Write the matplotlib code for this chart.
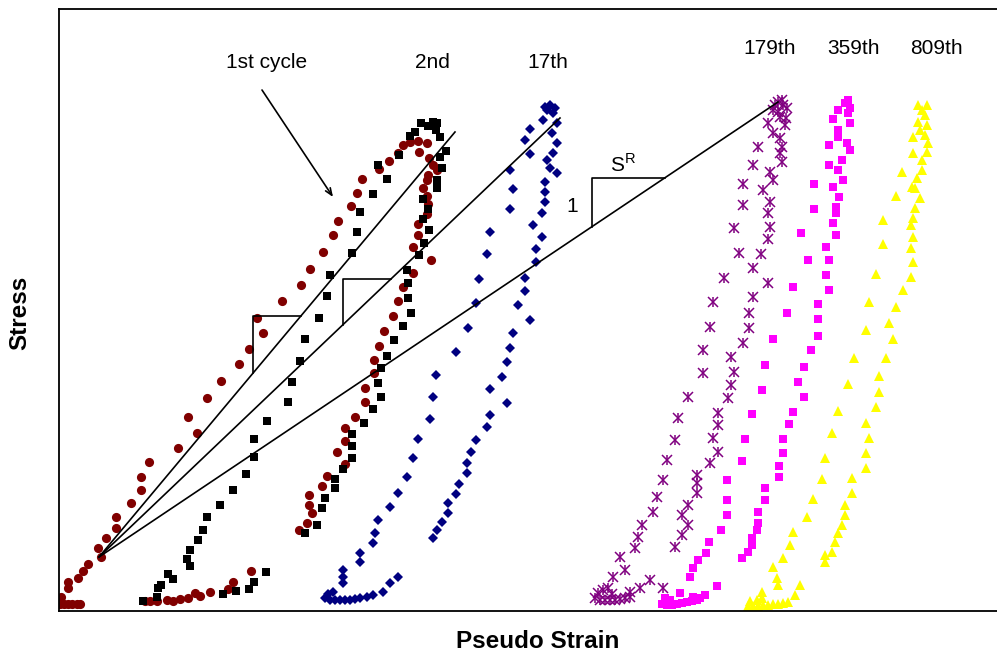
import numpy as np
import matplotlib
matplotlib.use('Agg')
import matplotlib.pyplot as plt

plt.rcParams['font.family'] = ['Liberation Sans', 'DejaVu Sans']

# pseudo strain / stress pairs for each loading cycle (arbitrary units)
strain_1st = [1, 5, 9, 13, 18, 21, 0, 2, 9, 9, 19, 24, 29, 42, 39, 47, 57, 57, 72, 82, 82, 90,
              119, 138, 129, 148, 162, 180, 190, 204, 198, 223, 242, 251, 264, 274, 279, 292,
              298, 303, 320, 330, 339, 344, 351, 359, 368, 360, 370, 374, 378, 369, 368, 364,
              368, 369, 368, 359, 359, 354, 372, 354, 344, 339, 334, 325, 320, 315, 315, 306,
              306, 296, 286, 286, 278, 286, 268, 263, 250, 250, 253, 248, 240, 192, 174, 169,
              151, 141, 136, 129, 121, 114, 108, 98, 91, 86]
stress_1st = [7, 7, 7, 7, 7, 7, 11, 14, 23, 29, 33, 40, 47, 54, 63, 73, 83, 94, 108, 121, 134, 149,
              163, 178, 194, 213, 230, 247, 262, 278, 293, 310, 326, 342, 359, 376, 390, 405,
              418, 432, 442, 450, 458, 466, 469, 470, 468, 459, 453, 446, 441, 436, 431, 423,
              415, 407, 397, 387, 376, 364, 351, 338, 324, 310, 295, 280, 265, 251, 238, 223,
              209, 194, 183, 170, 159, 147, 135, 125, 116, 106, 98, 88, 81, 40, 29, 22,
              19, 15, 18, 13, 12, 10, 11, 10, 10, 10]

strain_2nd = [84, 98, 99, 102, 109, 114, 131, 128, 131, 139, 144, 148, 161, 174, 187, 195, 195,
              208, 229, 233, 241, 246, 260, 268, 271, 293, 298, 301, 314, 328, 319, 340, 351,
              356, 362, 369, 374, 377, 378, 381, 387, 381, 383, 378, 378, 364, 369, 364, 370,
              365, 360, 348, 349, 349, 352, 344, 335, 328, 322, 319, 322, 314, 305, 293, 293,
              293, 284, 276, 276, 266, 263, 258, 246, 207, 195, 190, 177, 164]
stress_2nd = [10, 14, 23, 26, 37, 32, 45, 52, 61, 71, 81, 94, 106, 121, 137, 154, 172,
              190, 209, 229, 250, 272, 293, 315, 336, 358, 379, 399, 417, 432, 446, 456, 475,
              479, 488, 485, 489, 481, 488, 474, 460, 454, 443, 431, 423, 412, 402, 392, 381,
              368, 356, 341, 328, 313, 298, 285, 271, 255, 243, 228, 214, 202, 188, 177, 165,
              153, 142, 132, 123, 113, 103, 86, 78, 39, 29, 22, 20, 17]

strain_17th = [266, 271, 276, 281, 286, 291, 296, 301, 269, 274, 284, 284, 284, 301, 301, 314,
               316, 319, 331, 339, 348, 354, 359, 371, 374, 377, 397, 409, 417, 420, 428, 431,
               451, 454, 451, 471, 466, 471, 484, 488, 486, 491, 496, 494, 498, 493, 498, 494,
               488, 491, 498, 486, 486, 486, 483, 474, 483, 477, 477, 466, 466, 459, 471, 454,
               451, 448, 443, 431, 448, 431, 428, 417, 412, 408, 408, 400, 397, 389, 389, 383,
               378, 374, 339, 331, 324, 314, 308]
stress_17th = [13, 11, 11, 11, 11, 11, 12, 13, 17, 19, 28, 34, 41, 49, 58, 68,
               78, 91, 104, 118, 134, 153, 172, 192, 214, 236, 259, 283, 308, 332, 357, 379,
               402, 422, 441, 457, 471, 482, 491, 501, 504, 506, 503, 498, 488, 478, 468, 458,
               451, 443, 438, 429, 419, 409, 398, 386, 374, 362, 349, 333, 320, 306, 291, 278,
               263, 249, 234, 222, 208, 196, 184, 171, 159, 148, 138, 127, 117, 108, 98, 89,
               81, 73, 34, 28, 19, 16, 14]

strain_179th = [536, 541, 546, 551, 556, 561, 566, 571, 539, 544, 549, 553, 554, 566, 561, 576,
                579, 583, 594, 598, 604, 608, 616, 619, 629, 644, 644, 651, 654, 665, 680, 675,
                684, 684, 694, 699, 709, 714, 719, 724, 728, 716, 723, 719, 727, 721, 726, 714,
                721, 723, 721, 723, 711, 714, 704, 711, 709, 711, 709, 702, 694, 709, 694, 690,
                690, 684, 672, 675, 672, 669, 659, 659, 654, 659, 651, 638, 638, 638, 629, 623,
                629, 623, 616, 604, 591, 581, 571]
stress_179th = [13, 11, 11, 11, 11, 12, 13, 14, 18, 21, 23, 17, 34, 41, 54, 63,
                74, 86, 99, 114, 131, 151, 171, 193, 214, 238, 261, 284, 309, 333, 358, 383,
                406, 427, 446, 464, 488, 501, 509, 506, 503, 506, 511, 499, 493, 494, 486, 478,
                473, 464, 458, 449, 439, 431, 421, 409, 398, 384, 372, 357, 343, 328, 314, 298,
                283, 268, 254, 239, 226, 213, 198, 186, 173, 159, 148, 136, 128, 118, 106, 96,
                86, 76, 64, 23, 31, 23, 19]

strain_359th = [603, 608, 613, 618, 623, 628, 633, 638, 606, 611, 641, 621, 631, 634, 639, 647,
                650, 662, 668, 668, 668, 683, 686, 693, 703, 706, 714, 728, 734, 749, 742, 755,
                755, 770, 770, 774, 779, 786, 789, 791, 789, 791, 779, 779, 788, 791, 783, 779,
                784, 774, 780, 777, 777, 774, 777, 767, 770, 767, 770, 759, 759, 759, 752, 745,
                739, 745, 734, 730, 724, 724, 720, 720, 706, 706, 699, 699, 698, 693, 693, 689,
                683, 658, 646, 634]
stress_359th = [7, 6, 6, 7, 8, 9, 10, 11, 13, 11, 13, 18, 34, 43, 51, 58,
                69, 81, 96, 111, 131, 150, 172, 197, 221, 246, 272, 298, 324, 351, 378, 402,
                427, 446, 466, 492, 501, 508, 511, 503, 498, 488, 481, 474, 468, 461, 451, 441,
                431, 424, 414, 404, 398, 388, 376, 364, 351, 336, 321, 307, 292, 275, 261, 244,
                229, 214, 199, 187, 172, 158, 145, 134, 123, 111, 99, 88, 81, 73, 66, 59,
                53, 25, 16, 14]

strain_809th = [689, 694, 699, 704, 709, 714, 719, 724, 691, 698, 703, 703, 719, 718, 714, 724,
                731, 734, 748, 754, 763, 766, 773, 779, 789, 795, 807, 810, 817, 824, 824, 837,
                843, 853, 854, 854, 859, 859, 868, 863, 866, 861, 868, 866, 869, 868, 863, 863,
                858, 856, 861, 856, 854, 852, 854, 852, 854, 852, 844, 837, 830, 834, 827, 820,
                820, 817, 807, 810, 807, 807, 793, 793, 786, 786, 783, 779, 776, 773, 766, 766,
                741, 736, 729]
stress_809th = [5, 5, 5, 6, 6, 7, 7, 8, 10, 11, 13, 19, 26, 33, 44, 53,
                66, 79, 94, 112, 132, 153, 178, 200, 227, 253, 281, 309, 337, 367, 391, 415,
                439, 424, 458, 474, 489, 506, 506, 501, 496, 481, 486, 476, 468, 459, 451, 441,
                433, 423, 413, 403, 393, 386, 374, 363, 349, 334, 321, 304, 288, 272, 253, 235,
                219, 204, 188, 173, 158, 143, 133, 118, 106, 96, 86, 78, 69, 59, 56, 49,
                26, 16, 9]

# secant lines from the common start point to the peak of cycles 1, 17 and 179
secant_start = (40, 54)
secant_ends = [(396, 479), (501, 493), (719, 509)]
# left edge and run of the slope triangle drawn under each secant
triangle_x = [194, 284, 533]
triangle_run = [48, 48, 73]

cycle_labels = ['1st cycle', '2nd', '17th', '179th', '359th', '809th']
cycle_label_x = [208, 373, 489, 711, 794, 877]
cycle_label_y = [548, 548, 548, 563, 563, 563]

fig = plt.figure(figsize=(9.97, 6.55), dpi=100)
ax = fig.add_axes([59 / 997, 44 / 655, 938 / 997, 602 / 655])

ax.plot(strain_1st, stress_1st, 'o', color='#800000', markersize=6.6, markeredgewidth=0)
ax.plot(strain_2nd, stress_2nd, 's', color='black', markersize=6.2, markeredgewidth=0)
ax.plot(strain_17th, stress_17th, 'D', color='#000080', markersize=4.8, markeredgewidth=0)
ax.plot(strain_179th, stress_179th, 'x', color='#800080', markersize=6.5, markeredgewidth=1.1)
ax.plot(strain_179th, stress_179th, '|', color='#800080', markersize=7.5, markeredgewidth=1.1)
ax.plot(strain_359th, stress_359th, 's', color='#FF00FF', markersize=6.2, markeredgewidth=0)
ax.plot(strain_809th, stress_809th, '^', color='#FFFF00', markersize=7.5, markeredgewidth=0)

x0, y0 = secant_start
for (x1, y1), tx, run in zip(secant_ends, triangle_x, triangle_run):
    ax.plot([x0, x1], [y0, y1], color='black', linewidth=1.2)
    slope = (y1 - y0) / (x1 - x0)
    y_lo = y0 + slope * (tx - x0)
    y_hi = y0 + slope * (tx + run - x0)
    ax.plot([tx, tx, tx + run], [y_lo, y_hi, y_hi], color='black', linewidth=1.2)

# the "1" and S^R legs of the last triangle
ax.text(triangle_x[2] - 20, 405, '1', fontsize=15, ha='center', va='center')
ax.text(triangle_x[2] + 31, 446, 'S$^\\mathregular{R}$', fontsize=15, ha='center', va='center')

for label, lx, ly in zip(cycle_labels, cycle_label_x, cycle_label_y):
    ax.text(lx, ly, label, fontsize=15, ha='center', va='center')

ax.annotate('', xy=(274, 414), xytext=(203, 521),
            arrowprops=dict(arrowstyle='->,head_length=0.5,head_width=0.2',
                            color='black', linewidth=1.2, shrinkA=0, shrinkB=0))

ax.set_xlim(0, 938)
ax.set_ylim(0, 602)
ax.set_xticks([])
ax.set_yticks([])
ax.spines['right'].set_visible(False)
for side in ['left', 'bottom', 'top']:
    ax.spines[side].set_linewidth(1.3)

fig.text(538 / 997, 1 - 642 / 655, 'Pseudo Strain', fontsize=17.5, fontweight='bold',
         ha='center', va='center')
fig.text(20 / 997, 1 - 313 / 655, 'Stress', fontsize=17.5, fontweight='bold',
         ha='center', va='center', rotation=90)

fig.savefig('out.png', dpi=100)
